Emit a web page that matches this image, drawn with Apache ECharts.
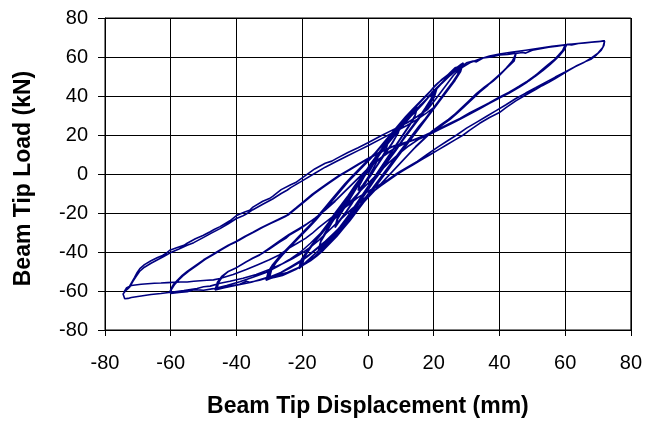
<!DOCTYPE html>
<html>
<head>
<meta charset="utf-8">
<script src="https://cdn.jsdelivr.net/npm/echarts@6/dist/echarts.min.js"></script>
<style>
html,body{margin:0;padding:0;background:#fff;}
#chart{width:645px;height:423px;}
</style>
</head>
<body>
<div id="chart"></div>
<script>
// Beam tip displacement (mm) vs beam tip load (kN), traced in test order
const cyclesSmall = [[0,0],[1,3],[2,6],[3,8.5],[2.6,6],[1.5,2.5],[0.5,-0.5],[-0.5,-3],[-1.5,-5.5],[-3,-8.5],[-2.6,-6],[-1.5,-2.5],[-0.5,0.5],[0.5,3],
[2,6.5],[3.5,10],[5,13],[6,15.5],[5.4,12],[4,8],[2.5,3.5],[1,-0.5],[-0.5,-4],[-2,-8],[-3.5,-11.5],[-5,-14],[-6,-16],[-5.4,-12.5],[-4,-8],[-2.5,-3.5],[-1,0.5],[0.5,4.5],
[2,8],[4,12.5],[6,17],[8,21],[10,25.5],[9.3,21.5],[7.5,16],[5.5,11],[3.5,6],[1.5,1],[-0.5,-4],[-2.5,-9],[-4.5,-14],[-6.5,-19],[-8.5,-23.5],[-10,-27],[-9.3,-22.5],[-7.5,-17],[-5.5,-11.5],[-3.5,-6.5],[-1.5,-1.5],[0.5,3.5],[2.5,8.5],[4.5,13.5],[6.5,18],[8.5,22.5],[10,25.5],[9.2,21],[7.2,15.5],[5,10],[3,5],[1,0],[-1,-5],[-3,-10],[-5,-15.5],[-7,-20.5],[-9,-25],[-10,-27.5],[-9.2,-23],[-7,-17],[-5,-11.5],[-3,-6],[-1,-1]];

const cycles15 = [[0.5,3],[2.5,8],[4.5,13],[6.5,17.5],[8.5,21.5],[10.5,25.5],[12.5,29.5],[14,32],[15,34.5],[14.3,30],[12.8,25.5],[11,21],[9,16],[7,11],[5,6],[3,1],[1,-4],[-1,-9],[-3,-14],[-5,-19],[-7,-24],[-9,-28.5],[-11,-32.5],[-13,-36],[-15,-39],[-14.3,-34.5],[-12.7,-30],[-11,-25],[-9,-20],[-7,-15],[-5,-10],[-3,-5],[-1,0],
[1,3.5],[3,8.5],[5,13.5],[7,18.5],[9,23],[11,27],[13,31],[15,34],[14.2,29],[12.5,24.5],[10.5,19.5],[8.5,14.5],[6.5,9.5],[4.5,4.5],[2.5,-0.5],[0.5,-5.5],[-1.5,-10.5],[-3.5,-15.5],[-5.5,-20.5],[-7.5,-25.5],[-9.5,-30],[-11.5,-33.5],[-13.5,-36.5],[-15,-38.5],[-14.2,-33.5],[-12.5,-28.5],[-10.5,-23],[-8.5,-18],[-6.5,-13],[-4.5,-8],[-2.5,-3],[-0.5,1.5]];

const cycles20 = [[1.5,6],[3.5,11],[5.5,15],[7.5,19.5],[9,22],[9.5,21.5],[11,25.5],[13,29.5],[14.5,32],[15,31.5],[16.5,35.5],[18,38.5],[19,40.5],[20,43],
[19.2,38.5],[17.5,34],[15.5,29],[13.5,24.5],[11.5,20],[9.5,15],[7.5,10.5],[5.5,6],[3.5,1],[1.5,-3.5],[-0.5,-8],[-2.5,-13],[-4.5,-18],[-6.5,-22.5],[-8.5,-27],[-10.5,-31],[-12.5,-35],[-14.5,-38.5],[-16.5,-41.5],[-18.5,-44.5],[-20,-47],
[-19.3,-42.5],[-17.5,-38],[-16,-34.5],[-15.5,-35],[-14,-30.5],[-12,-26],[-10,-21],[-8,-16.5],[-6,-12],[-4,-7.5],[-2,-3],[0,1.5],
[2,6.5],[4,11.5],[6,16],[8,20.5],[10,24.5],[11,25.5],[11.5,25],[12.5,28.5],[14,31.5],[16,35.5],[17.5,37.5],[18.5,40],[20,42.5],[21,44],
[20.2,39.5],[18.5,35],[16.5,30.5],[14.5,26],[12.5,21.5],[10.5,17],[8.5,12],[6.5,7.5],[4.5,2.5],[2.5,-2],[0.5,-7],[-1.5,-12],[-3.5,-17],[-5.5,-21.5],[-7.5,-26],[-9.5,-30.5],[-11.5,-34.5],[-13.5,-38],[-15.5,-41.5],[-17.5,-44],[-19.5,-46.5],[-21,-48.5],
[-20.3,-44],[-18.5,-39.5],[-16.5,-35],[-14.5,-30.5],[-13.5,-29],[-13,-29.5],[-11.5,-25],[-9.5,-20.5],[-7.5,-16],[-5.5,-11],[-3.5,-6.5],[-1.5,-2],[0.5,3],
[2.5,8],[4.5,12.5],[6.5,17],[8.5,21],[10.5,25.5],[12.5,29],[13,28.5],[14.5,32.5],[16.5,36],[18.5,39.5],[19.5,42],[20.5,43.5],
[19.8,39],[18,34.5],[16,30],[14,25],[12,20.5],[10,16],[8,11],[6,6.5],[4,1.5],[2,-3],[0,-8],[-2,-13],[-4,-18],[-6,-22.5],[-8,-27],[-10,-31.5],[-12,-35.5],[-14,-39],[-16,-42],[-18,-44.5],[-20.5,-47.5],
[-19.8,-43],[-18,-38.5],[-16,-34],[-14,-29.5],[-12,-25],[-10,-20],[-8,-15.5],[-6,-11],[-4,-6],[-2,-1.5],[0,3]];

const cycles30 = [[2,7.5],[4.5,12.5],[7,17.5],[9.5,22.5],[12,27.5],[14.5,32.5],[17,37],[19,40.5],[20.5,43.5],[21,43],[22,46],[23.5,48.5],[24,48],[25,51],[26.5,53],[27,52.5],[28,55.5],
[27.3,51],[25.5,46.5],[23.5,42],[21.5,37.5],[19.5,33],[17.5,28.5],[15.5,24.5],[13.5,20],[11.5,15.5],[9.5,11],[7.5,6.5],[5.5,2],[3.5,-2.5],[1.5,-7],[-0.5,-11.5],[-2.5,-16],[-4.5,-20.5],[-6.5,-25],[-8.5,-29],[-10.5,-33],[-12.5,-36.5],[-14.5,-40],[-16.5,-43],[-18.5,-45.5],[-20.5,-47.5],[-21,-47],[-22.5,-49],[-24.5,-50.5],[-25,-50],[-27,-51.5],[-29,-52.5],[-30,-53.5],
[-29.3,-49],[-28,-45.5],[-26,-41.5],[-24,-38],[-22,-34.5],[-20,-31],[-18,-27.5],[-16,-24],[-14,-20],[-12,-16],[-10,-12],[-8,-8],[-6,-4],[-4,-0.5],[-2,3],[0,6.5],
[2,10],[4,14],[6,18],[8,22],[10,26],[12,30],[14,33.5],[16,37],[18,40.5],[19.5,43.5],[20,43],[21,46],[22.5,48.5],[23,48],[24,50.5],[25.5,52.5],[26,52],[27,54.5],[28.5,56.5],
[27.8,52],[26,47.5],[24,43],[22,38.5],[20,34],[18,29.5],[16,25],[14,20.5],[12,16],[10,11.5],[8,7],[6,2.5],[4,-2],[2,-6.5],[0,-11],[-2,-15.5],[-4,-20],[-6,-24.5],[-8,-28.5],[-10,-32.5],[-12,-36],[-14,-39.5],[-16,-42.5],[-18,-45],[-20,-47],[-22,-49],[-22.5,-48.5],[-24,-50.5],[-26,-52],[-26.5,-51.5],[-28.5,-53],[-30.5,-54],
[-29.8,-49.5],[-28.5,-46],[-26.5,-42],[-24.5,-38.5],[-22.5,-35],[-20.5,-31.5],[-18.5,-28],[-16.5,-24.5],[-14.5,-20.5],[-12.5,-16.5],[-10.5,-12.5],[-8.5,-8.5],[-6.5,-4.5],[-4.5,-1],[-2.5,2.5],[-0.5,6],
[1.5,9.5],[3.5,13.5],[5.5,17.5],[7.5,21.5],[9.5,25.5],[11.5,29.5],[13.5,33],[15.5,36.5],[17.5,40],[19,42.5],[20.5,45.5],[21.5,47],[22,46.5],[23.5,49.5],[25,52],[26.5,54.5],[27.5,55],[28,54.5],[29,57],
[28.2,52.5],[26.5,48],[24.5,43.5],[22.5,39],[20.5,34.5],[18.5,30],[16.5,25.5],[14.5,21],[12.5,16.5],[10.5,12],[8.5,7.5],[6.5,3],[4.5,-1.5],[2.5,-6],[0.5,-10.5],[-1.5,-15],[-3.5,-19.5],[-5.5,-24],[-7.5,-28],[-9.5,-32],[-11.5,-35.5],[-13.5,-39],[-15.5,-42],[-17.5,-44.5],[-19.5,-46.5],[-21.5,-48.5],[-23.5,-50],[-24,-49.5],[-25.5,-51.5],[-27.5,-52.5],[-29.5,-53.5],[-31,-54.5],
[-30.3,-50],[-29,-46.5],[-27,-42.5],[-25,-39],[-23,-35.5],[-21,-32],[-19,-28.5],[-17,-25],[-15,-21],[-13,-17],[-11,-13],[-9,-9],[-7,-5],[-5,-1.5],[-3,2],[-1,5.5]];

const cycles45 = [[2,10.5],[5,15.5],[8,21],[11,26.5],[14,32],[17,37],[20,42],[22.5,46.5],[25,50.5],[27.5,54],[30,57],[32,58],[33,57.5],[35,59.5],[37.5,60],[38,59.5],[40,61],[42.5,61.3],[45,62],
[44.2,58.5],[42.5,55],[40.5,51.5],[38.5,48.5],[36.5,45.5],[34,42],[31.5,38],[29,34],[27,31],[25,28],[22,24.5],[19,21],[16.5,17],[14,13],[11.5,8.5],[9,4],[6.5,-0.5],[4,-5],[1.5,-9.5],[-1,-14],[-3.5,-18.5],[-6,-23],[-8.5,-27.5],[-11,-31.5],[-13.5,-35.5],[-16,-39],[-18.5,-42.5],[-21,-45.5],[-24,-48.5],[-27,-51],[-30,-53],[-33,-54.5],[-36,-55.5],[-37,-55],[-39,-56.5],[-42,-57.5],[-44,-58.2],[-46,-59],
[-45.4,-55.5],[-44.2,-52.5],[-42.5,-50],[-40,-48],[-37,-45],[-35,-43.2],[-34.5,-43.6],[-32.9,-41.5],[-30,-38.5],[-27,-35],[-25,-33],[-24.5,-33.4],[-24,-31.5],[-21,-28.5],[-18.8,-26],[-16,-22.5],[-13,-18.5],[-10,-14],[-7,-9],[-4,-4],[-1,1],[2,5.5],[5,9.5],[8,13],[11,15.5],[14,17.5],[17,19.5],[19.5,21.5],[22.5,25],[25.5,29],[28,33],[30.5,37],[33,41],[35.5,44.5],[38,47.5],[40,50.5],[42,54],[43.8,57.5],[45,61.5],
[44.5,58],[43,55.5],[41,52.5],[39,49.5],[37,46.5],[34.5,43],[32,39],[29.5,35],[27,31.5],[24.5,28],[22,25],[19.5,22],[17,18],[14.5,14],[12,9.5],[9.5,5],[7,0.5],[4.5,-4],[2,-8.5],[-0.5,-13],[-3,-17.5],[-5.5,-22],[-8,-26.5],[-10.5,-30.5],[-13,-34.5],[-15.5,-38],[-18,-41.5],[-20.5,-44.5],[-23.5,-47.5],[-26.5,-50.5],[-29.5,-52.5],[-32.5,-54],[-35.5,-55.5],[-38.5,-56.5],[-41.5,-57.5],[-44,-58.5],[-46.5,-59.5],
[-45.8,-55.5],[-44.5,-52.5],[-42.5,-50],[-40.5,-48.5],[-38,-46],[-35,-43],[-32.5,-41],[-30,-38],[-27,-34.5],[-24,-31],[-21,-28],[-18.5,-25.5],[-15.5,-22],[-12.5,-17.5],[-9.5,-13],[-6.5,-8],[-3.5,-3],[-0.5,2],[2.5,6.5],[5.5,10.5],[8.5,13.5],[11.5,16],[14.5,18],[17.5,20]];

const cycles60 = [[20,22],[22.5,25.2],[25.5,29.2],[28,33.2],[30.5,37.2],[33,41.2],[35.5,44.7],[38,47.7],[40,50.7],[42,54.2],[44,58],[45,61.8],[47,62.3],[48,62],[50,63.5],[52.5,64.2],[53,63.8],[55,65],[57.5,65.5],[60,66.2],
[59.3,63],[58.2,60.5],[56.8,58.2],[55.3,56],[53.2,53],[51,50.2],[48.5,47.2],[46,44.5],[43,41.5],[40,39],[37,36.2],[34,33.5],[31,30.8],[28,28],[25,25.5],[22,23],[19,20.5],[15.6,18],[12.5,14.5],[9.5,10.5],[6.5,6],[3.5,1],[0.5,-4],[-2.5,-9],[-5.5,-14.5],[-8.5,-20],[-11.5,-25.5],[-14.5,-30.5],[-17.5,-35.5],[-20.5,-40],[-24,-44],[-27.5,-47.5],[-31,-50.5],[-35,-53],[-39,-55.3],[-43,-57.2],[-47,-58.8],[-50,-59.6],[-53,-59.3],[-55,-60.4],[-57.5,-60.8],[-60,-61.3],
[-59.8,-59],[-59.3,-57],[-58,-54.5],[-56.5,-52],[-55,-50],[-52.5,-47],[-50,-44],[-47.5,-41.5],[-45,-39],[-42.5,-36.5],[-40,-34.5],[-37.5,-32],[-35,-29.8],[-32.5,-27.5],[-30,-25.5],[-27.5,-23.5],[-24.8,-21.3],[-22,-17.5],[-19.5,-14],[-17,-10.5],[-14.7,-7.7],[-12,-4.5],[-9,-1],[-6,2],[-3,5],[0,8],[4,11.5],[8,14.5],[12,16.5],[15.6,18.4],[19,21],[22,23.5],[25,26],[28,28.5],[31,31.4],[34,34],[37,36.6],[40,39.4],[43,42],[46,45],[48.5,47.6],[51,50.6],[53,53.5],[55,56.4],[56.6,58.5],[58,61],[59.3,63.4],[60,66.3],
[59.2,63.2],[58,60.8],[56.6,58.4],[55.1,56.2],[53,53.2],[50.8,50.4],[48.3,47.4],[45.8,44.8],[42.8,41.8],[39.8,39.2],[36.8,36.4],[33.8,33.7],[30.8,31],[27.8,28.2],[24.8,25.7],[21.8,23.2],[18.8,20.7],[15.4,18.2],[12,16.3],[8,14.3],[4,11.3],[0,7.8],[-3,4.8],[-6,1.8],[-9,-1.2],[-12,-4.7],[-14.7,-7.9],[-17,-10.7],[-19.5,-14.2],[-22,-17.7],[-24.8,-21.5],[-27.5,-23.7],[-30,-25.7],[-32.5,-27.7],[-35,-30],[-37.5,-32.2],[-40,-34.7],[-42.5,-36.7],[-45,-39.2],[-47.5,-41.7],[-50,-44.2],[-52.5,-47.2],[-55,-50.2],[-56.5,-52.2],[-58,-54.7],[-59.5,-57.5],[-60.3,-60.5],[-60,-61.5],
[-59.6,-58.8],[-58.8,-56.6],[-57.5,-54.2],[-56,-51.8],[-54.5,-49.8],[-52,-46.8],[-49.5,-43.8],[-47,-41.3],[-44.5,-38.8],[-42,-36.3],[-39.5,-34.3],[-37,-31.8],[-34.5,-29.6],[-32,-27.3],[-29.5,-25.3],[-27,-23.3],[-24.3,-21.1],[-21.5,-17.3],[-19,-13.8],[-16.5,-10.3],[-14.2,-7.5],[-11.5,-4.3],[-8.5,-0.8],[-5.5,2.2],[-2.5,5.2],[0.5,8.2],[4.5,11.7],[8.5,14.7],[12.5,16.7],[16,18.6],[19.5,21.2],[22.5,23.7],[25.5,26.2],[28.5,28.7],[31.5,31.6],[34.5,34.2],[37.5,36.8],[40.5,39.6],[43.5,42.2],[46.5,45.2],[49,47.8],[51.5,50.8],[53.5,53.7],[55.5,56.6],[57,58.7],[58.5,61.2],[59.7,63.6],[60.5,66.4],[62,66.2],[64,66.9],[66,67.2],[68,67.6],[70,67.8],[72,68.2]];

const cycles73 = [[71.8,66],[71,63.5],[69.5,61],[68,59],[66,57.5],[63.5,55.5],[61,53],[59,51],[57,49],[55,47],[53,45.3],[51,43.3],[48,40.5],[45,37.5],[42,34],[40,31.5],[37,29],[34,26],[31,22.5],[29,20],[26.5,17.5],[24,15],[21.5,12.5],[19,10],[16.5,7.5],[14,5],[11.5,2.5],[9,0],[6.5,-3],[4,-6],[2,-8.5],[0,-11],[-2.5,-14.5],[-5,-18],[-7.5,-22],[-10,-26],[-12.5,-30],[-15,-34],[-17.5,-37.5],[-20,-40.5],[-23,-43.5],[-26,-46],[-30,-49],[-34,-51.5],[-38,-53.5],[-42,-55],[-45,-56],[-48,-57.5],[-50,-57.8],[-50.5,-57.3],[-52,-58.7],[-56,-59.8],[-60,-60.6],[-63,-61.3],[-66,-61.8],[-68,-62.3],[-70,-62.8],[-72,-63.3],[-73,-63.8],[-74,-64],[-74.6,-63],[-74.5,-61.5],[-73.8,-60],[-72.9,-58.7],
[-72,-56],[-71,-53],[-70.2,-50.5],[-69.4,-48.5],[-68,-46.5],[-66,-44.5],[-64,-42.8],[-62.5,-41.8],[-62,-42.2],[-61.5,-40.8],[-60.3,-39.1],[-58,-37.7],[-56,-36.6],[-55.5,-36.9],[-55,-35.5],[-52.5,-33.2],[-50.2,-31.5],[-48,-29.6],[-47.5,-29.9],[-46.8,-28.5],[-45,-27],[-43,-25],[-42.5,-25.4],[-42,-24],[-40,-21.3],[-37.5,-19.5],[-36,-18.6],[-35.5,-19],[-35,-17],[-32,-14],[-30,-12.6],[-29.5,-13],[-29,-11.5],[-26.4,-8],[-23.5,-5.5],[-22,-4.4],[-21.5,-4.8],[-20,-2],[-16.2,2.6],[-13,5.5],[-11,6.6],[-10.5,6.2],[-9.5,8],[-6.1,11],[-3,13.5],[0,16],[4,19.6],[8,23],[12.1,26.4],[15,29.5],[18.2,33.2],[20,37],[22,41.5],[24,46],[26,50.5],[28,54],[31,57],[34,59],[37,60.5],[40,61.5],[44,62.5],[48,63.5],[52,64.5],[56,65.5],[60,66.3],[63,66.8],[66,67.3],[69,67.8],[72,68.2],
[71.5,65],[70,62],[68,59.5],[65.5,57],[63,55],[60,52.3],[57,49.7],[54,47],[51,44.2],[48,41.5],[45,38.7],[42,35.5],[39,32.5],[36,29.5],[33,26.5],[30,23.5],[27,20],[24,16.8],[21,13.5],[18,10],[15,6.5],[12,3.5],[9,0.5],[6,-3],[3,-6],[0,-9],[-3,-12],[-6,-16],[-9,-19.5],[-12,-23.5],[-15,-27.5],[-17,-30.5],[-19,-33],[-21.5,-35.5],[-24,-38],[-27,-41.5],[-30,-44],[-33.5,-46.5],[-37,-49],[-41,-51.5],[-45,-53.6],[-47,-54.3],[-47.5,-53.9],[-49,-54.5],[-53,-55],[-55,-55.4],[-55.5,-54.9],[-57,-55.4],[-61,-55.7],[-63,-55.9],[-63.5,-55.4],[-65,-56],[-69,-56.5],[-72,-57.2],[-73.5,-58.5],[-74.2,-60.5],[-73.6,-61],[-72.5,-58],
[-71.5,-55],[-70.5,-52.5],[-69.5,-50],[-68,-47.8],[-66,-45.8],[-64,-44],[-62,-42.2],[-60,-40.3],[-57.5,-38.5],[-55,-36.5],[-53,-35.2],[-52.5,-35.6],[-52,-34.3],[-50,-32.5],[-47.5,-30.2],[-45,-28],[-42.5,-25.5],[-40,-22.8],[-38,-21.4],[-37.5,-21.8],[-37,-20.5],[-35,-18.3],[-32,-15.5],[-29,-12.8],[-26.4,-10],[-24.5,-8.2],[-24,-8.6],[-23.5,-7],[-20,-3.5],[-16,0.5],[-13,3.5],[-9.5,6.5],[-6,9.5],[-3,12],[0,14.5],[4,18],[8,21.5],[12,25],[15,28],[18,31.5],[20,34]];

const xTicks = [-80,-60,-40,-20,0,20,40,60,80];
const yTicks = [-80,-60,-40,-20,0,20,40,60,80];

const path = [].concat(cyclesSmall, cycles15, cycles20, cycles30, cycles45, cycles60, cycles73);

const chart = echarts.init(document.getElementById('chart'), null, {renderer:'canvas'});
const font = 'Liberation Sans, Arial, sans-serif';
chart.setOption({
  animation:false,
  backgroundColor:'#fff',
  grid:{left:105,right:13,top:18,bottom:91,show:true,borderColor:'#000',borderWidth:1},
  xAxis:{
    type:'value',min:xTicks[0],max:xTicks[xTicks.length-1],interval:20,
    name:'Beam Tip Displacement (mm)',nameLocation:'middle',nameGap:65,
    nameTextStyle:{fontFamily:font,fontWeight:'bold',fontSize:23,color:'#000'},
    axisLine:{onZero:false,lineStyle:{color:'#000',width:1}},
    axisTick:{show:true,inside:false,length:6,lineStyle:{color:'#000'}},
    axisLabel:{fontFamily:font,fontSize:20,color:'#000',margin:23},
    splitLine:{show:true,lineStyle:{color:'#000',width:1}}
  },
  yAxis:{
    type:'value',min:yTicks[0],max:yTicks[yTicks.length-1],interval:20,
    name:'Beam Tip Load (kN)',nameLocation:'middle',nameGap:70,nameRotate:90,
    nameTextStyle:{fontFamily:font,fontWeight:'bold',fontSize:23,color:'#000',padding:[0,9,0,0]},
    axisLine:{onZero:false,lineStyle:{color:'#000',width:1}},
    axisTick:{show:true,inside:false,length:7,lineStyle:{color:'#000'}},
    axisLabel:{fontFamily:font,fontSize:20,color:'#000',margin:17},
    splitLine:{show:true,lineStyle:{color:'#000',width:1}}
  },
  series:[{
    type:'line',data:path,showSymbol:false,symbol:'none',smooth:false,
    lineStyle:{color:'#000080',width:1.6},z:5
  }]
});
</script>
</body>
</html>
